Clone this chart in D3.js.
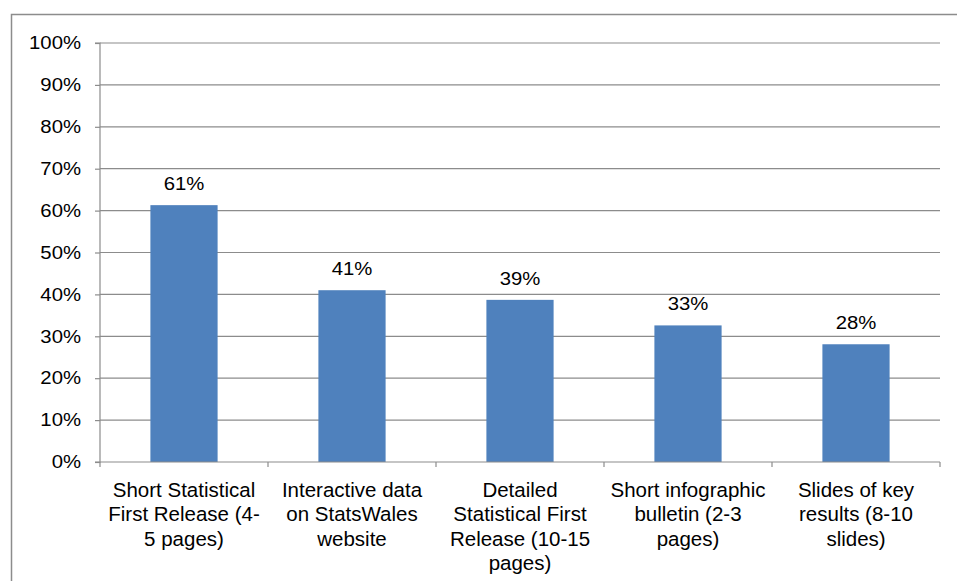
<!DOCTYPE html>
<html><head><meta charset="utf-8">
<script src="https://cdn.jsdelivr.net/npm/d3@7"></script>
<style>body{margin:0;background:#fff}svg{display:block}text{font-family:"Liberation Sans",Arial,sans-serif;fill:#000}</style>
</head><body>
<script>
const categories = [
  "Short Statistical First Release (4- 5 pages)",
  "Interactive data on StatsWales website",
  "Detailed Statistical First Release (10-15 pages)",
  "Short infographic bulletin (2-3 pages)",
  "Slides of key results (8-10 slides)"
];
const categoryLines = [
  ["Short Statistical", "First Release (4-", "5 pages)"],
  ["Interactive data", "on StatsWales", "website"],
  ["Detailed", "Statistical First", "Release (10-15", "pages)"],
  ["Short infographic", "bulletin (2-3", "pages)"],
  ["Slides of key", "results (8-10", "slides)"]
];
const values = [0.613, 0.410, 0.387, 0.326, 0.281];
const valueLabels = ["61%", "41%", "39%", "33%", "28%"];
const yTicks = [0, 0.1, 0.2, 0.3, 0.4, 0.5, 0.6, 0.7, 0.8, 0.9, 1.0];

(function () {
const W = 957, H = 581;
const svg = d3.select("body").append("svg").attr("width", W).attr("height", H);

// outer frame
svg.append("path").attr("d", `M11.5,${H+2} V14.5 H${W+2}`).attr("fill","none").attr("stroke","#8c8c8c").attr("stroke-width",1.5);

const pLeft = 100, pRight = 940, pTop = 43, pBottom = 462;
const x = d3.scaleBand().domain(categories).range([pLeft, pRight]).paddingInner(0.6).paddingOuter(0.3);
const y = d3.scaleLinear().domain([0, 1]).range([pBottom, pTop]);

// gridlines
svg.append("g").selectAll("line").data(yTicks.filter(d => d > 0)).join("line")
  .attr("x1", pLeft).attr("x2", pRight).attr("y1", d => y(d)).attr("y2", d => y(d))
  .attr("stroke", "#8c8c8c").attr("stroke-width", 1.2);

// y axis
const sxTick = 1.13;
const yAxis = d3.axisLeft(y).tickValues(yTicks).tickFormat(d3.format(".0%")).tickSize(5).tickPadding(9);
const gy = svg.append("g").attr("transform", `translate(${pLeft},0)`).call(yAxis);
gy.select(".domain").attr("stroke", "#8c8c8c").attr("stroke-width", 1.2).attr("d", `M-5,${pTop}H0V${pBottom}H-5`);
gy.selectAll(".tick line").attr("stroke", "#8c8c8c").attr("stroke-width", 1.2);
gy.selectAll(".tick text").attr("font-size", 18).attr("font-family", '"Liberation Sans",Arial,sans-serif').attr("fill", "#000")
  .attr("x", -19 / sxTick).attr("transform", `scale(${sxTick},1)`);

// bars
svg.append("g").selectAll("rect").data(values).join("rect")
  .attr("x", (d, i) => x(categories[i])).attr("width", x.bandwidth())
  .attr("y", d => y(d)).attr("height", d => y(0) - y(d))
  .attr("fill", "#4F81BD");

// x axis
const step = (pRight - pLeft) / categories.length;
const gx = svg.append("g");
gx.append("line").attr("x1", pLeft).attr("x2", pRight).attr("y1", pBottom).attr("y2", pBottom).attr("stroke", "#8c8c8c").attr("stroke-width", 1.2);
gx.selectAll("line.t").data(d3.range(categories.length + 1)).join("line").attr("class","t")
  .attr("x1", i => pLeft + i * step).attr("x2", i => pLeft + i * step)
  .attr("y1", pBottom).attr("y2", pBottom + 5).attr("stroke", "#8c8c8c").attr("stroke-width", 1.2);

// category labels
categoryLines.forEach((lines, i) => {
  const cx = x(categories[i]) + x.bandwidth() / 2;
  const t = svg.append("text").attr("text-anchor", "middle").attr("font-size", 20.5)
    .attr("transform", `translate(${cx},0)`);
  lines.forEach((ln, j) => t.append("tspan").attr("x", 0).attr("y", 497 + j * 24.3).text(ln));
});

// value labels
const sxVal = 1.07;
svg.append("g").selectAll("text").data(values).join("text")
  .attr("transform", (d, i) => `translate(${x(categories[i]) + x.bandwidth() / 2},${y(d) - 15}) scale(${sxVal},1)`)
  .attr("text-anchor", "middle").attr("font-size", 19)
  .text((d, i) => valueLabels[i]);
})();
</script>
</body></html>
